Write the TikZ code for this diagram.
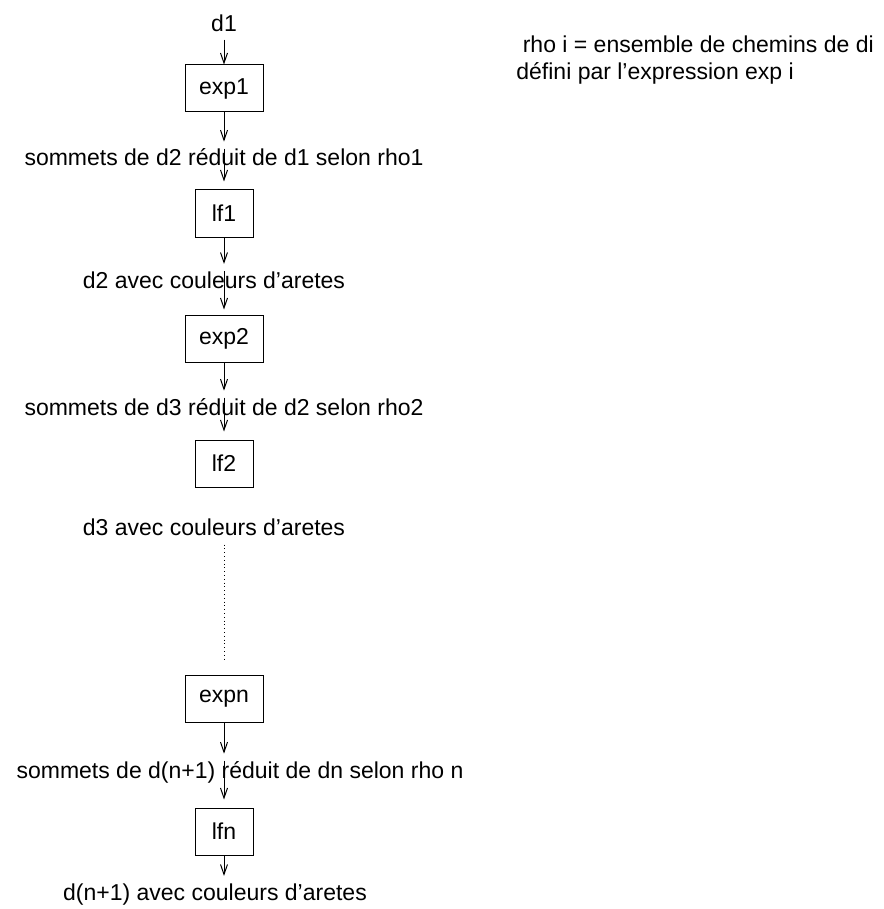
\documentclass[tikz,border=0pt]{standalone}
\usepackage{fontspec}
\setmainfont{Liberation Sans}
\usetikzlibrary{arrows.meta}

\begin{document}
\begin{tikzpicture}[x=0.5pt,y=-0.5pt,
  every node/.style={font=\fontsize{11.5}{13.5}\selectfont},
  box/.style={draw,line width=0.5pt,inner sep=0pt,minimum height=23.5pt},
  wide/.style={box,minimum width=39pt},
  narrow/.style={box,minimum width=29pt},
  lbl/.style={inner xsep=0pt,inner ysep=3.5pt,anchor=base},
  flow/.style={-{Straight Barb[length=5pt,width=3.5pt]},line width=0.5pt}]
\useasboundingbox (0,0) rectangle (883,909);

\node[lbl] (d1) at (224,32) {d1};
\node[wide] (exp1) at (224,88.5) {exp1};
\node[lbl] (r1) at (224,166) {sommets de d2 réduit de d1 selon rho1};
\node[narrow] (lf1) at (224,213.5) {lf1};
\node[lbl] (c2) at (214,288) {d2 avec couleurs d’aretes};
\node[wide] (exp2) at (224,338.5) {exp2};
\node[lbl] (r2) at (224,415) {sommets de d3 réduit de d2 selon rho2};
\node[narrow] (lf2) at (224,463.5) {lf2};
\node[lbl] (c3) at (214,535) {d3 avec couleurs d’aretes};
\node[wide] (expn) at (224,698.5) {expn};
\node[lbl] (rn) at (240,778) {sommets de d(n+1) réduit de dn selon rho n};
\node[narrow] (lfn) at (224,831.5) {lfn};
\node[lbl] (cn) at (215,900) {d(n+1) avec couleurs d’aretes};

\node[anchor=base west,inner sep=0pt] (note1) at (516,53) {\hspace*{0.278em}rho i = ensemble de chemins de di};
\node[anchor=base west,inner sep=0pt] (note2) at (516,80) {défini par l’expression exp i};

\draw[flow] (d1) -- (exp1);
\draw[flow] (exp1) -- (exp1 |- r1.north);
\draw[flow,shorten <=3.5pt,shorten >=4pt] (r1.north) -- (lf1);
\draw[flow] (lf1) -- (lf1 |- c2.north);
\draw[flow,shorten <=3.5pt,shorten >=2.5pt] (exp2 |- c2.north) -- (exp2);
\draw[flow] (exp2) -- (exp2 |- r2.north);
\draw[flow,shorten <=3.5pt,shorten >=4pt] (r2.north) -- (lf2);
\draw[line width=0.5pt,dash pattern=on 0.5pt off 1.4pt,shorten <=1pt,shorten >=7.5pt] (expn |- c3.south) -- (expn);
\draw[flow] (expn) -- (expn |- rn.north);
\draw[flow,shorten <=3.5pt,shorten >=4pt] (lfn |- rn.north) -- (lfn);
\draw[flow] (lfn) -- (lfn |- cn.north);
\end{tikzpicture}
\end{document}
